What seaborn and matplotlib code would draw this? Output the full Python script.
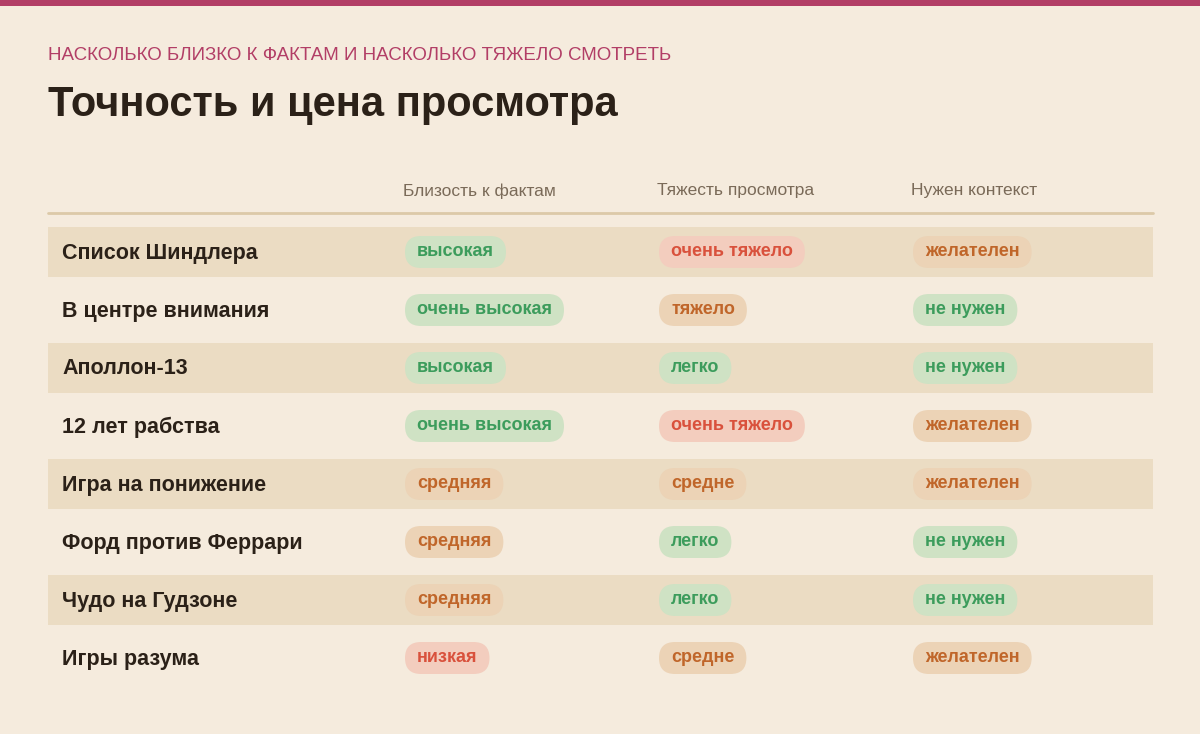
import matplotlib
matplotlib.use("Agg")
import matplotlib.pyplot as plt
import seaborn as sns
from matplotlib.patches import FancyBboxPatch, Rectangle

films = ["Список Шиндлера", "В центре внимания", "Аполлон-13", "12 лет рабства",
         "Игра на понижение", "Форд против Феррари", "Чудо на Гудзоне", "Игры разума"]
accuracy = ["высокая", "очень высокая", "высокая", "очень высокая",
            "средняя", "средняя", "средняя", "низкая"]
heaviness = ["очень тяжело", "тяжело", "легко", "очень тяжело",
             "средне", "легко", "легко", "средне"]
context = ["желателен", "не нужен", "не нужен", "желателен",
           "желателен", "не нужен", "не нужен", "желателен"]
headers = ["Близость к фактам", "Тяжесть просмотра", "Нужен контекст"]

tone = {"высокая": "g", "очень высокая": "g", "средняя": "o", "низкая": "r",
        "очень тяжело": "r", "тяжело": "o", "легко": "g", "средне": "o",
        "желателен": "o", "не нужен": "g"}
pal = {"g": ("#CFE2C4", "#3C9C5C"), "o": ("#ECD3B6", "#C0662A"), "r": ("#F3CDBE", "#D9513C")}

BG = "#F5EBDD"
sns.set_theme(style="white", rc={"figure.facecolor": BG, "axes.facecolor": BG})
plt.rcParams['font.family'] = ['Liberation Sans', 'DejaVu Sans']

fig = plt.figure(figsize=(12, 7.34), dpi=100)
ax = fig.add_axes([0, 0, 1, 1])
ax.set_xlim(0, 1200); ax.set_ylim(734, 0); ax.axis("off")

ax.add_patch(Rectangle((0, 0), 1200, 6, color="#B23E66", lw=0))
ax.text(48, 56, "НАСКОЛЬКО БЛИЗКО К ФАКТАМ И НАСКОЛЬКО ТЯЖЕЛО СМОТРЕТЬ",
        fontsize=13.5, color="#B23E66", va="center")
ax.text(48, 105, "Точность и цена просмотра", fontsize=30, fontweight="bold",
        color="#2B2118", va="center")

colx = [403, 657, 911]
for x, h in zip(colx, headers):
    ax.text(x, 191, h, fontsize=12.5, color="#7A6A58", va="center")
ax.plot([48, 1153], [213, 213], color="#DCC9A8", lw=2)

fig.canvas.draw()
r = fig.canvas.get_renderer()
for i, f in enumerate(films):
    y = 252 + 58 * i
    if i % 2 == 0:
        ax.add_patch(Rectangle((48, y - 25), 1105, 50, color="#EBDCC3", lw=0))
    ax.text(62, y + 1, f, fontsize=15.5, fontweight="bold", color="#2B2118", va="center")
    for x, val in zip(colx, [accuracy[i], heaviness[i], context[i]]):
        bg, fg = pal[tone[val]]
        t = ax.text(x + 14, y, val, fontsize=13, fontweight="bold", color=fg,
                    va="center", zorder=3)
        w = t.get_window_extent(r).width
        ax.add_patch(FancyBboxPatch((x + 8, y - 10), w + 12, 20,
                                    boxstyle="round,pad=6,rounding_size=16",
                                    fc=bg, ec="none", zorder=2, mutation_aspect=1))

fig.savefig("out.png", dpi=100, facecolor=BG)
